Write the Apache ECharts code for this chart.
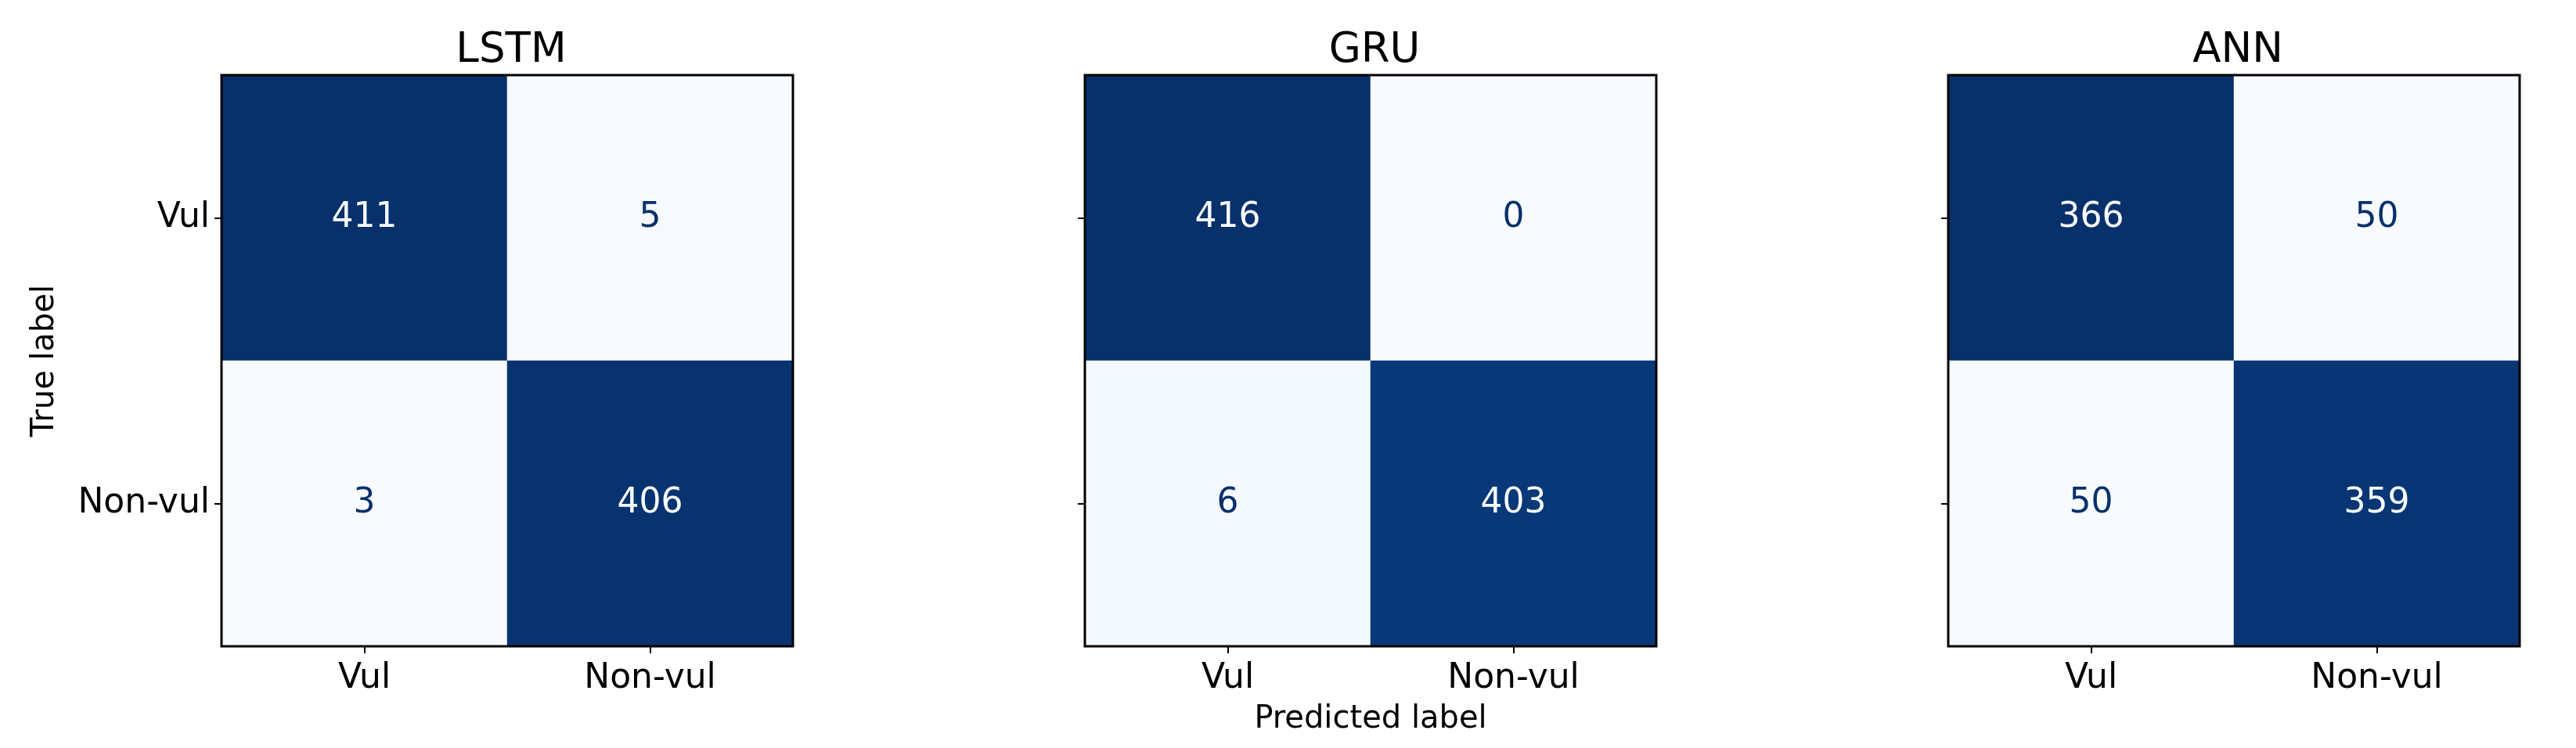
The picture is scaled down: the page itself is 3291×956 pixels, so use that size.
<!DOCTYPE html>
<html>
<head>
<meta charset="utf-8">
<title>Confusion matrices</title>
<script src="https://cdn.jsdelivr.net/npm/echarts@6.0.0/dist/echarts.min.js"></script>
<style>
  html, body { margin: 0; padding: 0; background: #fff; }
  #chart { width: 3291px; height: 956px; }
</style>
</head>
<body>
<div id="chart"></div>
<script>
// class names (rows = true label, columns = predicted label)
const classes = ['Vul', 'Non-vul']
const models = ['LSTM', 'GRU', 'ANN']
const lstmMatrix = [[411, 5], [3, 406]]
const gruMatrix = [[416, 0], [6, 403]]
const annMatrix = [[366, 50], [50, 359]]
const matrices = [lstmMatrix, gruMatrix, annMatrix]

// matplotlib "Blues" colormap stops
const blues = ['#f7fbff', '#deebf7', '#c6dbef', '#9ecae1', '#6baed6', '#4292c6', '#2171b5', '#08519c', '#08306b']
const font = 'DejaVu Sans'

const chart = echarts.init(document.getElementById('chart'))

const grids = []
const xAxes = []
const yAxes = []
const titles = []
const visualMaps = []
const series = []

matrices.forEach((m, i) => {
  const left = 283 + i * 1103
  const flat = m.flat()
  const min = Math.min(...flat)
  const max = Math.max(...flat)
  const mid = (min + max) / 2

  grids.push({
    left: left, top: 96, width: 730, height: 730,
    show: true, z: 5,
    borderColor: '#000', borderWidth: 3,
    backgroundColor: 'transparent'
  })

  titles.push({
    text: models[i],
    left: left + 365,
    top: 34,
    textAlign: 'center',
    textStyle: { fontFamily: font, fontSize: 53, fontWeight: 'normal', color: '#000' }
  })

  xAxes.push({
    type: 'category',
    gridIndex: i,
    data: classes,
    axisLine: { show: false },
    axisTick: { show: true, alignWithLabel: true, length: 9, lineStyle: { color: '#000', width: 2 } },
    axisLabel: { fontFamily: font, fontSize: 44, color: '#000', margin: 20 },
    splitLine: { show: false },
    name: i === 1 ? 'Predicted label' : '',
    nameLocation: 'middle',
    nameGap: 74,
    nameTextStyle: { fontFamily: font, fontSize: 40, color: '#000' }
  })

  yAxes.push({
    type: 'category',
    gridIndex: i,
    data: classes,
    inverse: true,
    axisLine: { show: false },
    axisTick: { show: true, alignWithLabel: true, length: 9, lineStyle: { color: '#000', width: 2 } },
    axisLabel: { show: i === 0, fontFamily: font, fontSize: 44, color: '#000', margin: 15 },
    splitLine: { show: false },
    name: i === 0 ? 'True label' : '',
    nameLocation: 'middle',
    nameRotate: 90,
    nameGap: 205,
    nameTextStyle: { fontFamily: font, fontSize: 40, color: '#000' }
  })

  visualMaps.push({
    type: 'continuous',
    show: false,
    seriesIndex: i,
    dimension: 2,
    min: min,
    max: max,
    inRange: { color: blues }
  })

  // text colour flips like ConfusionMatrixDisplay does
  const data = []
  m.forEach((row, r) => {
    row.forEach((v, c) => {
      data.push({
        value: [c, r, v],
        label: { color: v > mid ? blues[0] : blues[blues.length - 1] }
      })
    })
  })

  series.push({
    type: 'heatmap',
    xAxisIndex: i,
    yAxisIndex: i,
    data: data,
    label: { show: true, fontFamily: font, fontSize: 44 },
    emphasis: { disabled: true },
    animation: false
  })
})

chart.setOption({
  backgroundColor: '#fff',
  animation: false,
  title: titles,
  grid: grids,
  xAxis: xAxes,
  yAxis: yAxes,
  visualMap: visualMaps,
  series: series
})
</script>
</body>
</html>
